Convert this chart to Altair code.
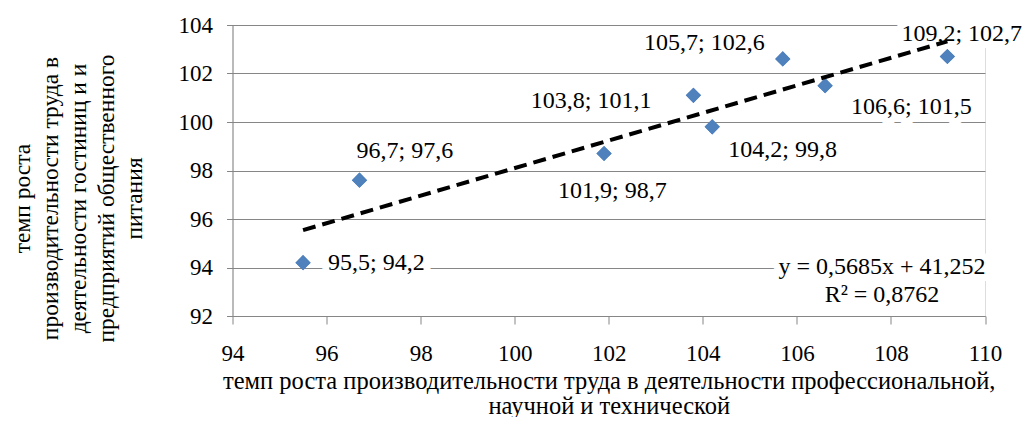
import altair as alt
import pandas as pd

# ---------------- data ----------------
X_VALUES = [95.5, 96.7, 101.9, 103.8, 104.2, 105.7, 106.6, 109.2]
Y_VALUES = [94.2, 97.6, 98.7, 101.1, 99.8, 102.6, 101.5, 102.7]
POINT_LABELS = ["95,5; 94,2", "96,7; 97,6", "101,9; 98,7", "103,8; 101,1",
                "104,2; 99,8", "105,7; 102,6", "106,6; 101,5", "109,2; 102,7"]
X_TICKS = [94, 96, 98, 100, 102, 104, 106, 108, 110]
Y_TICKS = [92, 94, 96, 98, 100, 102, 104]
EQUATION_LINES = ["y = 0,5685x + 41,252", "R² = 0,8762"]
X_TITLE = ["темп роста производительности труда  в деятельности профессиональной,",
           "научной и  технической"]
Y_TITLE = ["темп роста", "производительности труда  в", "деятельности гостиниц и и",
           "предприятий общественного", "питания"]

# ---------------- styling ----------------
FONT = "Liberation Serif, Times New Roman, serif"
GRAY = "#868686"
BLUE = "#4F81BD"
LABEL_ALIGN = ["left", "left", "left", "right", "left", "right", "left", "left"]
LABEL_DX = [25, -3, -46, -42, 16, -18, 26, -46]
LABEL_DY = [0, -29, 37, 6, 23, -16, 21, -23]

df = pd.DataFrame({"x": X_VALUES, "y": Y_VALUES, "label": POINT_LABELS,
                   "idx": list(range(len(X_VALUES)))})

x_enc = alt.X("x:Q", scale=alt.Scale(domain=[94, 110], nice=False, zero=False),
              axis=alt.Axis(values=X_TICKS, grid=False, domainColor=GRAY, tickColor=GRAY,
                            tickSize=8, labelFont=FONT, labelFontSize=23, labelColor="black",
                            labelPadding=18, labelFlush=False, labelOverlap=False, format="d",
                            title=X_TITLE, titleFont=FONT, titleFontSize=24.5,
                            titleFontWeight="normal", titleColor="black", titleLineHeight=25,
                            titleBaseline="middle", titleAlign="center", titleY=65))
y_enc = alt.Y("y:Q", scale=alt.Scale(domain=[92, 104], nice=False, zero=False),
              axis=alt.Axis(values=Y_TICKS, grid=True, gridColor=GRAY, gridWidth=1,
                            domainColor=GRAY, tickColor=GRAY, tickSize=6, labelFont=FONT,
                            labelFontSize=23, labelColor="black", labelPadding=14,
                            labelFlush=False, labelOverlap=False, format="d",
                            title=Y_TITLE, titleFont=FONT, titleFontSize=23.5,
                            titleFontWeight="normal", titleColor="black", titleLineHeight=28,
                            titleAngle=270, titleAlign="center", titleBaseline="middle",
                            titleX=-210, titleY=173))

base = alt.Chart(df)

layers = []
# white boxes (halo) behind labels
for i in range(len(X_VALUES)):
    layers.append(
        base.transform_filter(alt.datum.idx == i).mark_text(
            font=FONT, fontSize=24, align=LABEL_ALIGN[i], baseline="middle",
            dx=LABEL_DX[i], dy=LABEL_DY[i], color="white", stroke="white",
            strokeWidth=14, strokeJoin="round"
        ).encode(x=x_enc, y=y_enc, text="label:N")
    )
for i in range(len(X_VALUES)):
    layers.append(
        base.transform_filter(alt.datum.idx == i).mark_text(
            font=FONT, fontSize=24, align=LABEL_ALIGN[i], baseline="middle",
            dx=LABEL_DX[i], dy=LABEL_DY[i], color="black"
        ).encode(x=x_enc, y=y_enc, text="label:N")
    )

eq_src = alt.Chart(pd.DataFrame({"a": [0]}))
EQ_Y = [241.7, 270.0]
for j, line in enumerate(EQUATION_LINES):
    layers.append(eq_src.mark_text(font=FONT, fontSize=24, align="center", baseline="middle",
                                   color="white", stroke="white", strokeWidth=14,
                                   strokeJoin="round")
                  .encode(x=alt.value(649.5), y=alt.value(EQ_Y[j]), text=alt.value(line)))
for j, line in enumerate(EQUATION_LINES):
    layers.append(eq_src.mark_text(font=FONT, fontSize=24, align="center", baseline="middle",
                                   color="black")
                  .encode(x=alt.value(649.5), y=alt.value(EQ_Y[j]), text=alt.value(line)))

points = base.mark_point(shape="diamond", filled=True, size=230, color=BLUE, opacity=1).encode(
    x=x_enc, y=y_enc)
trend = base.transform_regression("x", "y", method="linear").mark_line(
    color="black", strokeWidth=4, strokeDash=[13, 7]).encode(x=x_enc, y=y_enc)

chart = alt.layer(points, *layers, points, trend).properties(
    width=752.5, height=291,
    padding={"left": 224.5, "top": 17, "right": 37, "bottom": 101},
    autosize=alt.AutoSizeParams(type="none"),
).configure_view(stroke=None).configure(background="white")

chart.save("out.html", embed_options={"renderer": "svg", "actions": False})
